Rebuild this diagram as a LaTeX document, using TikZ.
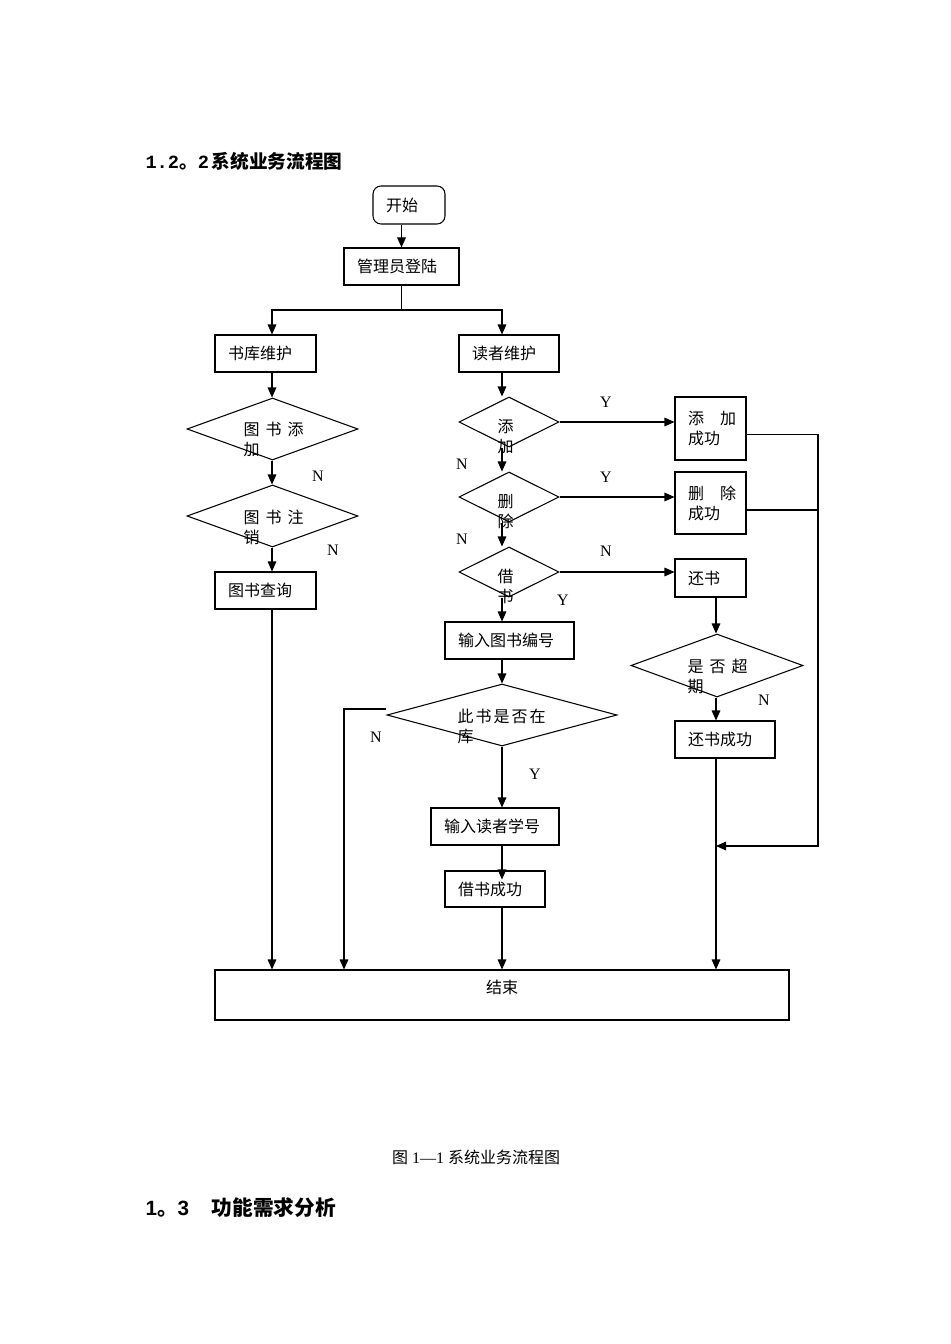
\documentclass[tikz,border=0pt]{standalone}
\usepackage{fontspec}
\setmainfont{Liberation Serif}
\setmonofont{Liberation Mono}
\setsansfont{Liberation Sans}
\newfontfamily\cjk{Noto Sans CJK SC}
\usetikzlibrary{shapes.geometric,arrows.meta,calc}
\newcommand{\zg}{\hspace{4.5pt}}

\begin{document}
\begin{tikzpicture}[
          x=0.75pt, y=-0.75pt,
          line width=0.8pt,
          every node/.style={font=\cjk\fontsize{12}{15}\selectfont},
          box/.style={draw, align=left, inner xsep=9.75pt, inner ysep=0pt, text width=#1, minimum height=27.75pt},
          dia/.style={diamond, draw, inner sep=0pt},
          dtext/.style={anchor=north west, inner sep=0pt, align=left},
          yn/.style={font=\fontsize{12}{14}\selectfont, inner sep=0pt},
          arr/.style={-{Triangle[length=7.5pt, width=6.5pt]}}
        ]
        \path[fill=white, use as bounding box] (0,0) rectangle (950,1344);

        % Headings
        \node[anchor=west, inner sep=0pt, font=\cjk\bfseries\fontsize{14}{16}\selectfont] (title) at (145,161)
          {{\ttfamily\bfseries 1.2}。{\ttfamily\bfseries 2}\hspace{2pt}系统业务流程图};
        \node (caption) at (476,1157) {图\hspace{3pt}{\rmfamily 1—1}\hspace{3pt}系统业务流程图};
        \node[anchor=west, inner sep=0pt, font=\cjk\bfseries\fontsize{15.5}{17}\selectfont] (sec) at (145,1208)
          {{\sffamily\bfseries 1}。{\sffamily\bfseries 3}\hspace{17pt}功能需求分析};

        % Start and login
        \node[box=34.5pt, rounded corners=6pt, minimum height=28.5pt] (start) at (409,205) {开始};
        \node[box=66.75pt] (login) at (401.5,266.5) {管理员登陆};

        % Left branch (books)
        \node[box=56.25pt] (stock) at (265.5,353.5) {书库维护};
        \node[dia, minimum width=128.25pt, minimum height=46.5pt] (bkadd) at (272.5,429) {};
        \node[dia, minimum width=128.25pt, minimum height=46.5pt] (bkdel) at (272.5,516) {};
        \node[box=56.25pt] (query) at (265.5,590.5) {图书查询};

        % Middle branch (readers)
        \node[box=55.5pt] (reader) at (509,353.5) {读者维护};
        \node[dia, minimum width=75pt, minimum height=37.5pt] (rdadd) at (509,422) {};
        \node[dia, minimum width=75pt, minimum height=37.5pt] (rddel) at (509,497) {};
        \node[dia, minimum width=75pt, minimum height=37.5pt] (borrow) at (509,572) {};
        \node[box=77.25pt] (bookno) at (509.5,640.5) {输入图书编号};
        \node[dia, minimum width=172.5pt, minimum height=46.5pt] (inlib) at (502,715) {};
        \node[box=76.5pt] (readno) at (495,826.5) {输入读者学号};
        \node[box=55.5pt, minimum height=27pt] (lendok) at (495,889) {借书成功};

        % Right branch (results)
        \node[box=33.75pt, minimum height=47.25pt] (addok) at (710.5,428.5) {\mbox{添\hspace{12pt}加}\\成功};
        \node[box=33.75pt, minimum height=46.5pt] (delok) at (710.5,503) {\mbox{删\hspace{12pt}除}\\成功};
        \node[box=33.75pt, minimum height=28.5pt] (giveback) at (710.5,578) {还书};
        \node[dia, minimum width=129pt, minimum height=47.25pt] (overdue) at (717,665.5) {};
        \node[box=55.5pt] (backok) at (725,739.5) {还书成功};

        % End
        \node[box=411pt, align=center, text height=17.25pt, text depth=20.25pt] (finish) at (502,995) {结束};

        % Diamond texts
        \node[dtext] (bkaddt) at (243,422) {图\zg 书\zg 添\\加};
        \node[dtext] (bkdelt) at (243,509) {图\zg 书\zg 注\\销};
        \node[dtext] (rdaddt) at (497,419) {添\\加};
        \node[dtext] (rddelt) at (497,494) {删\\除};
        \node[dtext] (borrowt) at (497,569) {借\\书};
        \node[dtext] (inlibt) at (457,709) {此\hspace{1.5pt}书\hspace{1.5pt}是\hspace{1.5pt}否\hspace{1.5pt}在\\库};
        \node[dtext] (overduet) at (687,659) {是\zg 否\zg 超\\期};

        % Y / N labels
        \node[yn] (n1) at (318,476) {N};
        \node[yn] (n2) at (333,550) {N};
        \node[yn] (y1) at (606,402) {Y};
        \node[yn] (n3) at (462,464) {N};
        \node[yn] (y2) at (606,477) {Y};
        \node[yn] (n4) at (462,539) {N};
        \node[yn] (n5) at (606,551) {N};
        \node[yn] (y3) at (563,600) {Y};
        \node[yn] (n6) at (376,737) {N};
        \node[yn] (y4) at (535,774) {Y};
        \node[yn] (n7) at (764,700) {N};

        % Columns
        \coordinate (colA) at (272,0);
        \coordinate (colB) at (344,0);
        \coordinate (colC) at (502,0);
        \coordinate (colD) at (716,0);
        \coordinate (split) at (401.5,310);
        \coordinate (bus) at (818,846);

        % Connectors, top
        \draw[arr] (start.south -| login.north) -- (login.north);
        \draw (login.south) -- (split);
        \draw[arr] (split) -| (stock.north -| colA);
        \draw[arr] (split) -| (reader.north -| colC);

        % Connectors, left
        \draw[arr] (stock.south -| colA) -- (bkadd.north -| colA);
        \draw[arr] (bkadd.south -| colA) -- (bkdel.north -| colA);
        \draw[arr] (bkdel.south -| colA) -- (query.north -| colA);
        \draw[arr] (query.south -| colA) -- (finish.north -| colA);

        % Connectors, middle
        \draw[arr] (reader.south -| colC) -- (rdadd.north -| colC);
        \draw[arr] (rdadd.south -| colC) -- (rddel.north -| colC);
        \draw[arr] (rddel.south -| colC) -- (borrow.north -| colC);
        \draw[arr] (borrow.south -| colC) -- (bookno.north -| colC);
        \draw[arr] (bookno.south -| colC) -- (inlib.north);
        \draw[arr] (inlib.south) -- (readno.north -| colC);
        \draw[arr] (readno.south -| colC) -- ($(lendok.north -| colC)+(0,9)$);
        \draw[arr] (lendok.south -| colC) -- (finish.north -| colC);
        \draw[arr] ($(inlib.west)+(0,-6)$) -| (finish.north -| colB);

        % Connectors, right
        \draw[arr] (rdadd.east) -- (rdadd.east -| addok.west);
        \draw[arr] (rddel.east) -- (rddel.east -| delok.west);
        \draw[arr] (borrow.east) -- (borrow.east -| giveback.west);
        \draw[arr] (giveback.south -| colD) -- (overdue.north -| colD);
        \draw[arr] (overdue.south -| colD) -- (backok.north -| colD);
        \draw[arr] (backok.south -| colD) -- (finish.north -| colD);
        \draw[arr] ($(addok.east)+(0,6)$) -| (bus) -- (bus -| colD);
        \draw ($(delok.east)+(0,7)$) -- +(72,0);

      \end{tikzpicture}
\end{document}
